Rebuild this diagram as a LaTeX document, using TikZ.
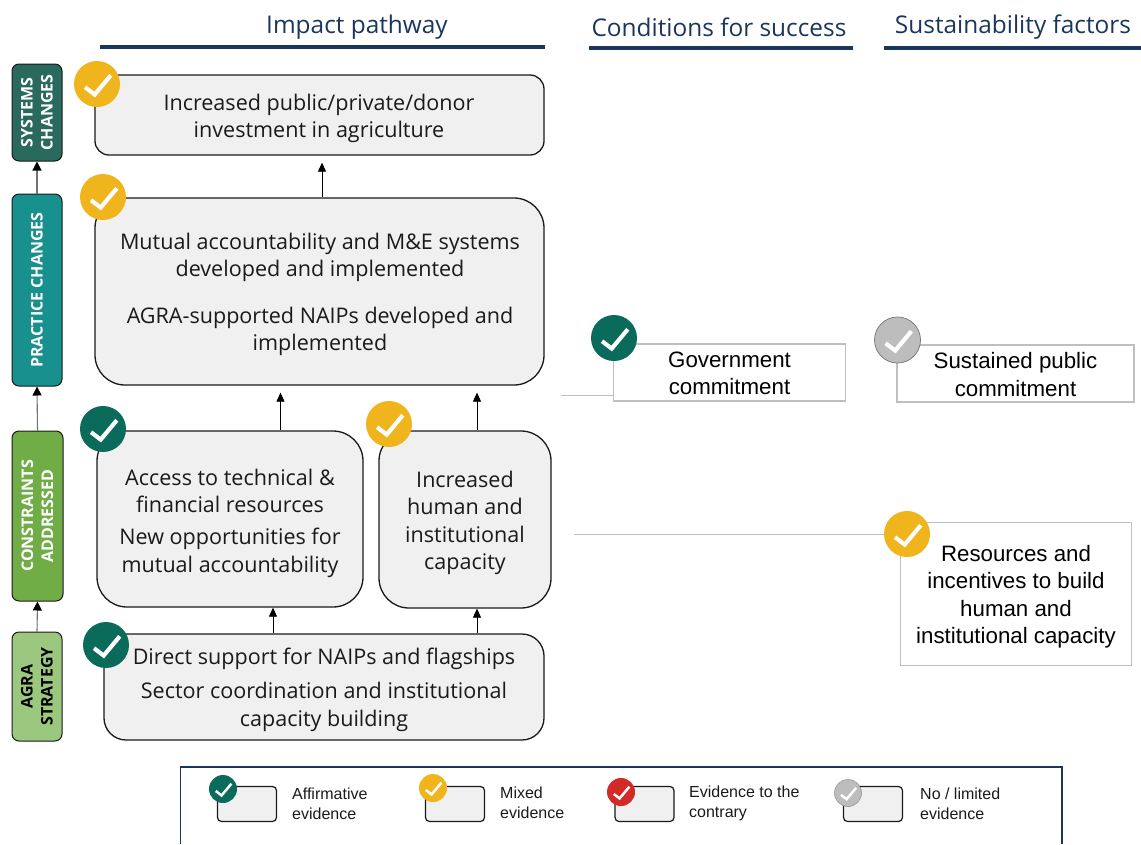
\documentclass[tikz,border=0pt]{standalone}
\usepackage{fontspec}
\setmainfont{Open Sans}
\newfontfamily\arialfont{Liberation Sans}
\usetikzlibrary{arrows.meta}
\definecolor{navy}{HTML}{1B365D}
\definecolor{evgreen}{HTML}{0B6B5B}
\definecolor{evyellow}{HTML}{F0B41C}
\definecolor{evred}{HTML}{D42A26}
\definecolor{evgrey}{HTML}{BDBDBD}
\definecolor{txt}{HTML}{1A1A1A}
\tikzset{
 x=1pt,y=-1pt,
 box/.style={draw=black!90,line width=1.3pt,fill=black!6,inner sep=0pt},
 side/.style={draw=black!90,line width=1pt,rounded corners=7pt,inner sep=0pt},
 sidet/.style={rotate=90,align=center,inner sep=0pt,font=\bfseries\fontsize{16}{20}\selectfont},
 head/.style={font=\fontsize{24.4}{28}\selectfont,text=navy,inner sep=0pt},
 rule/.style={navy,line width=3.2pt},
 arr/.style={black,line width=.8pt,-{Triangle[length=9pt,width=8pt]}},
 sidearr/.style={black!55,line width=1.1pt,-{Triangle[black,length=9pt,width=9pt]}},
 cond/.style={draw=black!25,line width=1.3pt,fill=white,align=center,inner sep=0pt},
 condt/.style={align=center,inner sep=0pt,font=\arialfont\fontsize{22.3}{27.5}\selectfont,text=black},
 link/.style={black!25,line width=1pt},
 badge/.style={circle,inner sep=0pt,minimum size=#1},
 leg/.style={draw=black!90,line width=1.2pt,fill=black!6,rounded corners=4pt,minimum width=59pt,minimum height=35pt,inner sep=0pt},
 legt/.style={font=\arialfont\fontsize{16}{20}\selectfont,align=left,anchor=west,inner sep=0pt,text=txt},
 bt/.style={align=center,inner sep=0pt,text=txt,font=\fontsize{21.55}{27.5}\selectfont},
}
\newcommand{\tick}[3][white]{\draw[#1,line width=#3*0.09pt,line cap=butt,line join=miter] ([shift={(-.26*#3,.07*#3)}]#2.center) -- ([shift={(-.05*#3,.23*#3)}]#2.center) -- ([shift={(.30*#3,-.19*#3)}]#2.center);}
\begin{document}
\begin{tikzpicture}
\useasboundingbox (0,0) rectangle (1141,844);
% headers
\node[head] (h1) at (357,27) {Impact pathway};
\node[head] (h2) at (719,27.5) {Conditions for success};
\node[head] (h3) at (1013,27.5) {Sustainability factors};
\coordinate (r1a) at (100,47); \coordinate (r1b) at (545,47);
\coordinate (r2a) at (589,48); \coordinate (r2b) at (853,48);
\coordinate (r3a) at (884,48); \coordinate (r3b) at (1141,48);
\draw[rule] (r1a) -- (r1b);
\draw[rule] (r2a) -- (r2b);
\draw[rule] (r3a) -- (r3b);
% left column
\node[side,fill={rgb,255:red,42;green,106;blue,94},minimum width=50pt,minimum height=97pt] (sc) at (37,112.5) {};
\node[sidet,text=white] (sct) at (37,112.5) {SYSTEMS\\CHANGES};
\node[side,fill={rgb,255:red,23;green,144;blue,142},minimum width=50pt,minimum height=192pt] (pr) at (37,290) {};
\node[sidet,text=white] (prt) at (37,290) {PRACTICE CHANGES};
\node[side,fill={rgb,255:red,112;green,173;blue,71},minimum width=51pt,minimum height=170pt] (ca) at (37.5,516) {};
\node[sidet,text=white] (cat) at (37.5,516) {CONSTRAINTS\\ADDRESSED};
\node[side,fill={rgb,255:red,156;green,199;blue,126},minimum width=50pt,minimum height=109pt] (ag) at (37,686.5) {};
\node[sidet,text=black] (agt) at (37,686.5) {AGRA\\STRATEGY};
\draw[sidearr] (pr.north) -- (sc.south);
\draw[sidearr] (ca.north) -- (pr.south);
\draw[sidearr] (ag.north) -- (ca.south);
% main boxes
\node[box,rounded corners=14pt,minimum width=449pt,minimum height=80pt] (sys) at (319.5,115) {};
\node[box,rounded corners=30pt,minimum width=449pt,minimum height=187pt] (pc) at (319.5,291.5) {};
\node[box,rounded corners=30pt,minimum width=266pt,minimum height=176pt] (acc) at (230,519) {};
\node[box,rounded corners=30pt,minimum width=172pt,minimum height=177pt] (hum) at (465,519.5) {};
\node[box,rounded corners=22pt,minimum width=440pt,minimum height=106pt] (st) at (324,687) {};
% text
\node[bt] (t1) at (319,118.5) {Increased public/private/donor\\investment in agriculture};
\node[bt] (t2) at (320,257.5) {Mutual accountability and M\&E systems\\developed and implemented};
\node[bt] (t3) at (320,331.5) {AGRA-supported NAIPs developed and\\implemented};
\node[bt] (t4) at (230,491) {Access to technical \&\\financial resources};
\node[bt] (t5) at (230,553) {New opportunities for\\mutual accountability};
\node[bt] (t6) at (465,523) {Increased\\human and\\institutional\\capacity};
\node[bt] (t7) at (324,659) {Direct support for NAIPs and flagships};
\node[bt] (t8) at (324,707) {Sector coordination and institutional\\capacity building};
% arrows
\draw[arr,shorten >=7pt] ([xshift=2.5pt]pc.north) -- ([xshift=2.5pt]sys.south);
\draw[arr,shorten >=7pt] ([xshift=50.5pt]acc.north) -- ([xshift=50.5pt]acc.north |- pc.south);
\draw[arr,shorten >=7pt] ([xshift=12pt]hum.north) -- ([xshift=12pt]hum.north |- pc.south);
\draw[arr] ([xshift=-51pt]st.north) -- ([xshift=-51pt]st.north |- acc.south);
\draw[arr] ([xshift=153pt]st.north) -- ([xshift=153pt]st.north |- hum.south);
% conditions
\coordinate (c1) at (561,395); \coordinate (c2) at (574,534);
\node[cond,minimum width=232pt,minimum height=57pt] (gov) at (729.5,372.5) {};
\node[cond,minimum width=237pt,minimum height=57pt] (pub) at (1015.5,373.5) {};
\node[cond,minimum width=231pt,minimum height=143pt] (res) at (1016,594) {};
\node[condt] (gt) at (729.5,373.5) {Government\\commitment};
\node[condt] (pt) at (1015.5,374.5) {Sustained public\\commitment};
\node[condt] (rt) at (1016,596.5) {Resources and\\incentives to build\\human and\\institutional capacity};
\draw[link] (c1) -- (c1 -| gov.west);
\draw[link] (c2) -- (c2 -| res.west);
% badges
\node[badge=46pt,fill=evyellow] (b1) at (97,84) {}; \tick{b1}{46}
\node[badge=46pt,fill=evyellow] (b2) at (103,197) {}; \tick{b2}{46}
\node[badge=46pt,fill=evgreen] (b3) at (103,429) {}; \tick{b3}{46}
\node[badge=46pt,fill=evyellow] (b4) at (389,424) {}; \tick{b4}{46}
\node[badge=46pt,fill=evgreen] (b5) at (106,645) {}; \tick{b5}{46}
\node[badge=46pt,fill=evgreen] (b6) at (614,338) {}; \tick{b6}{46}
\node[badge=46pt,fill=evgrey,draw=black!55,line width=.7pt] (b7) at (897.5,340) {}; \tick[white]{b7}{46}
\node[badge=46pt,fill=evyellow] (b8) at (907,534) {}; \tick{b8}{46}
% legend
\coordinate (la) at (180.5,844); \coordinate (lb) at (180.5,767); \coordinate (lc) at (1062,767); \coordinate (ld) at (1062,844);
\draw[navy,line width=1.3pt] (la) -- (lb) -- (lc) -- (ld);
\node[leg] (l1) at (247,804) {};
\node[leg] (l2) at (455,804) {};
\node[leg] (l3) at (644.5,804) {};
\node[leg] (l4) at (873,804) {};
\node[badge=28pt,fill=evgreen] (k1) at (223,789) {}; \tick{k1}{28}
\node[badge=28pt,fill=evyellow] (k2) at (433,788) {}; \tick{k2}{28}
\node[badge=28pt,fill=evred] (k3) at (621,792) {}; \tick{k3}{28}
\node[badge=27pt,fill=evgrey,draw=black!45,line width=.5pt] (k4) at (848,793) {}; \tick{k4}{27}
\node[legt] (lt1) at (292,804) {Affirmative\\evidence};
\node[legt] (lt2) at (500,803) {Mixed\\evidence};
\node[legt] (lt3) at (689,803) {Evidence to the\\contrary};
\node[legt] (lt4) at (920,804) {No / limited\\evidence};
\end{tikzpicture}
\end{document}
